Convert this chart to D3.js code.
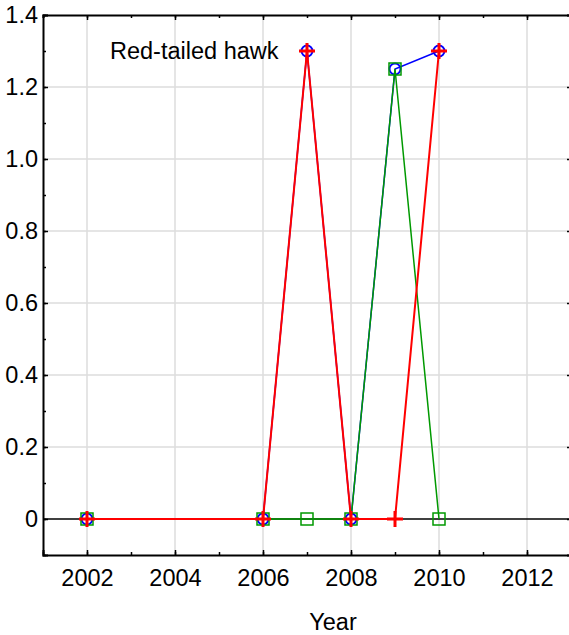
<!DOCTYPE html>
<html>
<head>
<meta charset="utf-8">
<script src="https://cdn.jsdelivr.net/npm/d3@7"></script>
<style>
  body { margin: 0; background: #fff; }
  svg text { font-family: "Liberation Sans", Arial, sans-serif; fill: #000; }
</style>
</head>
<body>
<div id="chart"></div>
<script>
const years = [2002, 2006, 2007, 2008, 2009, 2010];
const blueVals = [0, 0, 1.3, 0, 1.25, 1.3];
const greenVals = [0, 0, 0, 0, 1.25, 0];
const redVals = [0, 0, 1.3, 0, 0, 1.3];
const xTicks = [2002, 2004, 2006, 2008, 2010, 2012];
const yTicks = [0, 0.2, 0.4, 0.6, 0.8, 1.0, 1.2, 1.4];

const width = 569, height = 635;
const margin = { top: 15, right: -2, bottom: 80, left: 43 };

const svg = d3.select("#chart").append("svg")
    .attr("width", width)
    .attr("height", height);

const x = d3.scaleLinear()
    .domain([2001, 2013])
    .range([margin.left, width - margin.right]);

const y = d3.scaleLinear()
    .domain([-0.1, 1.4])
    .range([height - margin.bottom, margin.top]);

const fmtY = d => d === 0 ? "0" : d3.format(".1f")(d);

// grid
svg.append("g").selectAll("line.vg")
    .data(xTicks).enter().append("line")
    .attr("x1", d => x(d)).attr("x2", d => x(d))
    .attr("y1", y(1.4)).attr("y2", y(-0.1))
    .attr("stroke", "#dcdcdc").attr("stroke-width", 1.5);
svg.append("g").selectAll("line.hg")
    .data(yTicks.filter(d => d > 0 && d < 1.4)).enter().append("line")
    .attr("x1", x(2001)).attr("x2", x(2013))
    .attr("y1", d => y(d)).attr("y2", d => y(d))
    .attr("stroke", "#dcdcdc").attr("stroke-width", 1.5);

// zero line
svg.append("line")
    .attr("x1", x(2001)).attr("x2", x(2013))
    .attr("y1", y(0)).attr("y2", y(0))
    .attr("stroke", "#000").attr("stroke-width", 1.5);

// axes with inward ticks
const minorX = d3.range(2001, 2014, 1);
const minorY = d3.range(-0.1, 1.41, 0.1).map(v => +v.toFixed(1));

svg.append("g")
    .attr("transform", `translate(0,${y(-0.1)})`)
    .call(d3.axisBottom(x).tickValues(minorX).tickSize(-3).tickFormat(""))
    .call(g => g.select(".domain").remove());
svg.append("g")
    .attr("transform", `translate(0,${y(-0.1)})`)
    .call(d3.axisBottom(x).tickValues(xTicks).tickSize(-5).tickPadding(14).tickFormat(d3.format("d")))
    .call(g => g.select(".domain").attr("stroke-width", 2))
    .call(g => g.selectAll("text").attr("font-size", 23.5).attr("dy", "0.71em"));

svg.append("g")
    .attr("transform", `translate(0,${y(1.4)})`)
    .call(d3.axisTop(x).tickValues(minorX).tickSize(-3).tickFormat(""))
    .call(g => g.select(".domain").attr("stroke-width", 2));
svg.append("g")
    .attr("transform", `translate(0,${y(1.4)})`)
    .call(d3.axisTop(x).tickValues(xTicks).tickSize(-5).tickFormat(""))
    .call(g => g.select(".domain").remove());

svg.append("g")
    .attr("transform", `translate(${x(2001)},0)`)
    .call(d3.axisLeft(y).tickValues(minorY).tickSize(-3).tickFormat(""))
    .call(g => g.select(".domain").remove());
svg.append("g")
    .attr("transform", `translate(${x(2001)},0)`)
    .call(d3.axisLeft(y).tickValues(yTicks).tickSize(-5).tickPadding(5).tickFormat(fmtY))
    .call(g => g.select(".domain").attr("stroke-width", 2))
    .call(g => g.selectAll("text").attr("font-size", 23.5));

svg.append("g")
    .attr("transform", `translate(${x(2013)},0)`)
    .call(d3.axisRight(y).tickValues(yTicks).tickSize(-4).tickFormat(""))
    .call(g => g.select(".domain").attr("stroke-width", 2));

svg.selectAll(".tick line").attr("stroke", "#000").attr("stroke-width", 1.5);

// series
const line = d3.line().x(d => x(d[0])).y(d => y(d[1]));

const blue = years.map((yr, i) => [yr, blueVals[i]]);
const green = years.map((yr, i) => [yr, greenVals[i]]);
const red = years.map((yr, i) => [yr, redVals[i]]);

svg.append("path").datum(blue).attr("d", line)
    .attr("fill", "none").attr("stroke", "#0000ff").attr("stroke-width", 1.5);
svg.append("g").selectAll("circle").data(blue).enter().append("circle")
    .attr("cx", d => x(d[0])).attr("cy", d => y(d[1])).attr("r", 5.5)
    .attr("fill", "none").attr("stroke", "#0000ff").attr("stroke-width", 2);

svg.append("path").datum(green).attr("d", line)
    .attr("fill", "none").attr("stroke", "#009900").attr("stroke-width", 1.5);
svg.append("g").selectAll("rect").data(green).enter().append("rect")
    .attr("x", d => x(d[0]) - 6).attr("y", d => y(d[1]) - 6)
    .attr("width", 12).attr("height", 12)
    .attr("fill", "none").attr("stroke", "#009900").attr("stroke-width", 1.5);

svg.append("path").datum(red).attr("d", line)
    .attr("fill", "none").attr("stroke", "#ff0000").attr("stroke-width", 2);
svg.append("g").selectAll("path.plus").data(red).enter().append("path")
    .attr("d", d => {
        const cx = x(d[0]), cy = y(d[1]);
        return `M${cx - 8},${cy}H${cx + 8}M${cx},${cy - 8}V${cy + 8}`;
    })
    .attr("stroke", "#ff0000").attr("stroke-width", 3);

// labels
svg.append("text")
    .attr("x", 110).attr("y", 59)
    .attr("font-size", 23.5)
    .text("Red-tailed hawk");

svg.append("text")
    .attr("x", 333).attr("y", 630)
    .attr("text-anchor", "middle")
    .attr("font-size", 23.5)
    .text("Year");
</script>
</body>
</html>
